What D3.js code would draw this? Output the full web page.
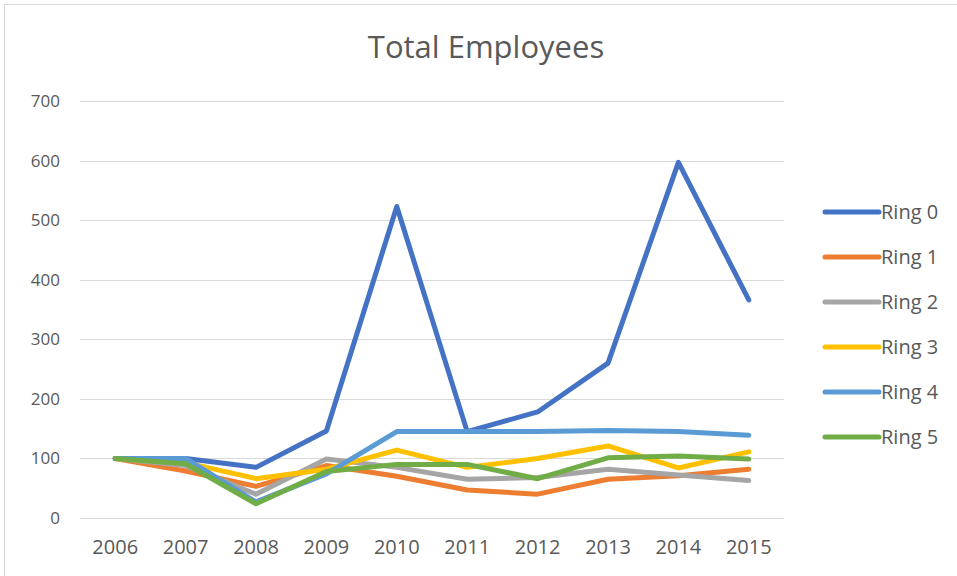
<!DOCTYPE html>
<html>
<head>
<meta charset="utf-8">
<script src="https://cdn.jsdelivr.net/npm/d3@7"></script>
<style>
  html, body { margin: 0; padding: 0; background: #fff; }
  svg { display: block; }
</style>
</head>
<body>
<svg id="chart" width="957" height="576"></svg>
<script>
// Employee counts per ring, 2006–2015
const years = ["2006", "2007", "2008", "2009", "2010", "2011", "2012", "2013", "2014", "2015"];
const seriesNames = ["Ring 0", "Ring 1", "Ring 2", "Ring 3", "Ring 4", "Ring 5"];
const ring0 = [100, 100, 85, 146, 523, 145, 178, 260, 597, 366];
const ring1 = [100, 79, 53, 88, 70, 47, 40, 65, 71, 82];
const ring2 = [100, 88, 40, 99, 85, 65, 68, 82, 72, 63];
const ring3 = [100, 93, 66, 82, 114, 85, 100, 121, 84, 111];
const ring4 = [100, 100, 27, 74, 145, 145, 145, 147, 145, 139];
const ring5 = [100, 91, 24, 78, 90, 90, 66, 101, 104, 99];
const yTicks = [0, 100, 200, 300, 400, 500, 600, 700];
const colors = ["#4472C4", "#ED7D31", "#A5A5A5", "#FFC000", "#5B9BD5", "#70AD47"];

const series = [ring0, ring1, ring2, ring3, ring4, ring5].map((values, i) => ({
  name: seriesNames[i], values, color: colors[i]
}));

const svg = d3.select("#chart");
const font = "'Open Sans', 'Noto Sans', sans-serif";

// chart frame
svg.append("rect")
  .attr("x", 4.5).attr("y", 4.5)
  .attr("width", 960).attr("height", 580)
  .attr("fill", "#fff").attr("stroke", "#d9d9d9");

const plot = { left: 80, right: 784, top: 101, bottom: 518 };

const x = d3.scaleBand().domain(years).range([plot.left, plot.right]);
const y = d3.scaleLinear().domain([0, 700]).range([plot.bottom, plot.top]);

// horizontal gridlines
svg.append("g")
  .selectAll("line")
  .data(yTicks)
  .join("line")
  .attr("x1", plot.left).attr("x2", plot.right)
  .attr("y1", d => Math.round(y(d)) + 0.5).attr("y2", d => Math.round(y(d)) + 0.5)
  .attr("stroke", "#d9d9d9").attr("stroke-width", 1);

// y axis labels
const yAxis = d3.axisLeft(y).tickValues(yTicks).tickSize(0).tickPadding(20);
svg.append("g")
  .attr("transform", `translate(${plot.left},0)`)
  .call(yAxis)
  .call(g => g.select(".domain").remove())
  .call(g => g.selectAll("text")
    .attr("font-family", font).attr("font-size", 17).attr("fill", "#595959"));

// x axis labels
const xAxis = d3.axisBottom(x).tickSize(0).tickPadding(22);
svg.append("g")
  .attr("transform", `translate(0,${plot.bottom})`)
  .call(xAxis)
  .call(g => g.select(".domain").remove())
  .call(g => g.selectAll("text")
    .attr("font-family", font).attr("font-size", 20).attr("fill", "#595959"));

// series lines
const line = d3.line()
  .x((d, i) => x(years[i]) + x.bandwidth() / 2)
  .y(d => y(d));

svg.append("g")
  .selectAll("path")
  .data(series)
  .join("path")
  .attr("d", d => line(d.values))
  .attr("fill", "none")
  .attr("stroke", d => d.color)
  .attr("stroke-width", 5)
  .attr("stroke-linejoin", "round")
  .attr("stroke-linecap", "round");

// title
svg.append("text")
  .attr("x", 486).attr("y", 58)
  .attr("text-anchor", "middle")
  .attr("font-family", font).attr("font-size", 31)
  .attr("fill", "#595959")
  .text("Total Employees");

// legend
const legend = svg.append("g")
  .selectAll("g")
  .data(series)
  .join("g")
  .attr("transform", (d, i) => `translate(825,${212 + i * 45})`);

legend.append("line")
  .attr("x1", 0).attr("x2", 54)
  .attr("stroke", d => d.color)
  .attr("stroke-width", 5)
  .attr("stroke-linecap", "round");

legend.append("text")
  .attr("x", 56).attr("y", 0)
  .attr("dy", "0.35em")
  .attr("font-family", font).attr("font-size", 20)
  .attr("fill", "#595959")
  .text(d => d.name);
</script>
</body>
</html>
